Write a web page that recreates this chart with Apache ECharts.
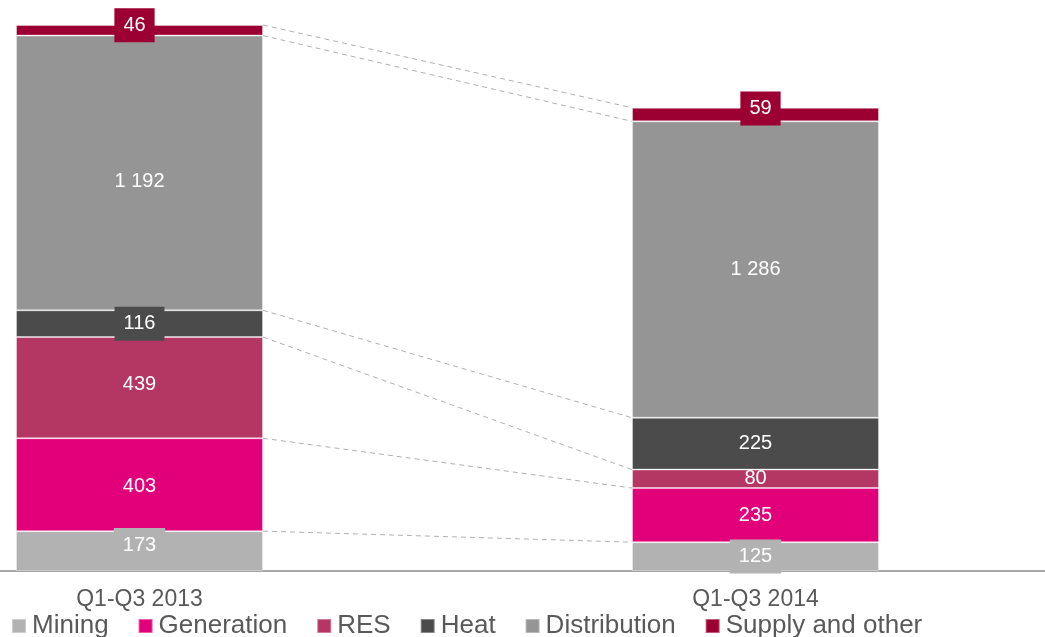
<!DOCTYPE html>
<html>
<head>
<meta charset="utf-8">
<script src="https://cdn.jsdelivr.net/npm/echarts@6/dist/echarts.min.js"></script>
<style>
  html, body { margin: 0; padding: 0; background: #fff; }
  #chart { width: 1045px; height: 637px; }
</style>
</head>
<body>
<div id="chart"></div>
<script>
// data
const categories = ["Q1-Q3 2013", "Q1-Q3 2014"];
const seriesNames = ["Mining", "Generation", "RES", "Heat", "Distribution", "Supply and other"];
const mining = [173, 125];
const generation = [403, 235];
const res = [439, 80];
const heat = [116, 225];
const distribution = [1192, 1286];
const supply = [46, 59];

const values = [mining, generation, res, heat, distribution, supply];
const colors = ["#b2b2b2", "#e2007a", "#b43663", "#4b4b4b", "#959595", "#9c0033"];
// labels drawn on a box in the segment colour (small segments)
const boxed = {
  "Mining": [true, true],
  "Heat": [true, false],
  "Supply and other": [true, true],
};
// small nudges of label positions, as in the original
const labelOffsets = {
  "Mining": [[0, -6], [0, 0]],
  "Generation": [[0, 2], [0, 0]],
  "RES": [[0, -3], [0, 0]],
  "Supply and other": [[-5, -5], [5, -6]],
  "Distribution": [[0, 9], [0, 0]],
};
const font = "Liberation Sans, Arial, sans-serif";
const BAR_W = 247;

function fmt(v) {
  return String(v).replace(/\B(?=(\d{3})+(?!\d))/g, " ");
}

// cumulative tops of each segment, for the connector lines
const links = [];
let c0 = 0, c1 = 0;
values.forEach((arr) => {
  c0 += arr[0];
  c1 += arr[1];
  links.push([0, c0, c1]);
});

const chart = echarts.init(document.getElementById("chart"));

const series = seriesNames.map((name, i) => ({
  name: name,
  type: "bar",
  stack: "total",
  barWidth: BAR_W,
  itemStyle: {
    color: colors[i],
    borderColor: "rgba(255,255,255,0.35)",
    borderWidth: 1,
  },
  label: {
    show: true,
    position: "inside",
    color: "#fff",
    fontSize: 20,
    fontFamily: font,
    formatter: (p) => fmt(p.value),
  },
  data: values[i].map((v, j) => {
    const b = boxed[name] && boxed[name][j];
    const off = labelOffsets[name] ? labelOffsets[name][j] : [0, 0];
    const label = { offset: off };
    if (b) {
      label.backgroundColor = colors[i];
      label.padding = [7, 9];
    }
    return { value: v, label: label };
  }),
}));

series.push({
  type: "custom",
  name: "links",
  silent: true,
  z: 1,
  encode: { x: 0, y: 1 },
  renderItem: (params, api) => {
    const p0 = api.coord([0, api.value(1)]);
    const p1 = api.coord([1, api.value(2)]);
    return {
      type: "line",
      shape: { x1: p0[0] + BAR_W / 2, y1: p0[1], x2: p1[0] - BAR_W / 2, y2: p1[1] },
      style: { stroke: "#b0b0b0", lineWidth: 1, lineDash: [5, 4] },
    };
  },
  data: links,
});

const option = {
  animation: false,
  textStyle: { fontFamily: font },
  grid: {
    left: -168.5,
    right: -18.5,
    top: 25,
    bottom: 66,
    outerBoundsMode: "none",
    containLabel: false,
  },
  legend: {
    data: seriesNames,
    left: 11,
    top: 613,
    padding: 0,
    itemWidth: 14,
    itemHeight: 14,
    itemGap: 29,
    icon: "rect",
    textStyle: { fontSize: 26, color: "#595959", fontFamily: font, padding: [0, 0, 0, 1] },
  },
  xAxis: {
    type: "category",
    data: categories,
    axisTick: { show: false },
    axisLine: { lineStyle: { color: "#a6a6a6", width: 2 } },
    axisLabel: { color: "#595959", fontSize: 23, fontFamily: font, margin: 17 },
  },
  yAxis: {
    type: "value",
    min: 0,
    max: 2369,
    show: false,
    splitLine: { show: false },
  },
  series: series,
};

chart.setOption(option);
</script>
</body>
</html>
